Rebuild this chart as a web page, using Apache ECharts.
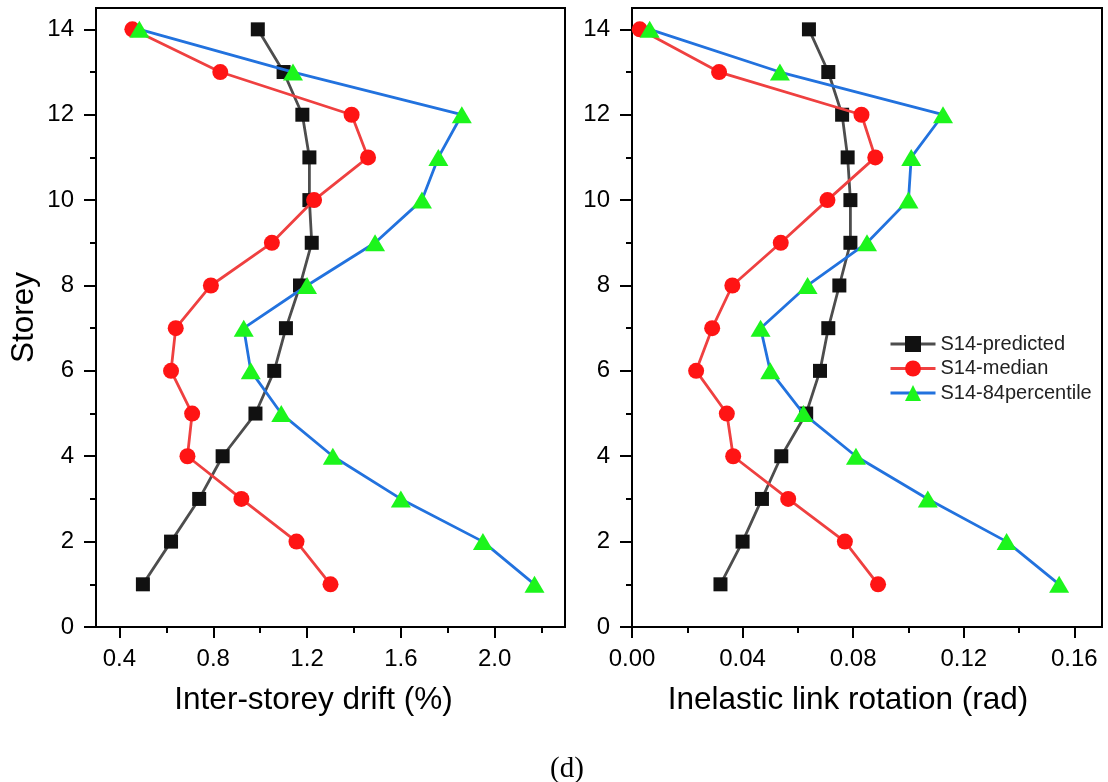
<!DOCTYPE html>
<html>
<head>
<meta charset="utf-8">
<script src="https://cdn.jsdelivr.net/npm/echarts@6/dist/echarts.min.js"></script>
<style>
  html, body { margin: 0; padding: 0; background: #fff; }
  #chart { width: 1108px; height: 782px; }
</style>
</head>
<body>
<div id="chart"></div>
<script>
// storey numbers, bottom to top
const storeys = [1, 2, 3, 4, 5, 6, 7, 8, 9, 10, 11, 12, 13, 14];

// inter-storey drift (%)
const driftPredicted = [0.50, 0.62, 0.74, 0.84, 0.98, 1.06, 1.11, 1.17, 1.22, 1.21, 1.21, 1.18, 1.10, 0.99];
const driftMedian = [1.30, 1.155, 0.92, 0.69, 0.71, 0.62, 0.64, 0.79, 1.05, 1.23, 1.46, 1.39, 0.83, 0.455];
const driftP84 = [2.17, 1.95, 1.60, 1.31, 1.09, 0.96, 0.93, 1.20, 1.49, 1.69, 1.76, 1.86, 1.14, 0.485];

// inelastic link rotation (rad)
const rotPredicted = [0.032, 0.040, 0.047, 0.054, 0.063, 0.068, 0.071, 0.075, 0.079, 0.079, 0.078, 0.076, 0.071, 0.064];
const rotMedian = [0.089, 0.077, 0.0565, 0.0366, 0.0343, 0.0232, 0.029, 0.0363, 0.0538, 0.0707, 0.088, 0.083, 0.0315, 0.0028];
const rotP84 = [0.1545, 0.1355, 0.107, 0.081, 0.062, 0.050, 0.0465, 0.0635, 0.085, 0.100, 0.101, 0.1125, 0.0535, 0.0064];

// ticks
const driftTicks = [0.4, 0.8, 1.2, 1.6, 2.0];
const driftMinor = [0.6, 1.0, 1.4, 1.8, 2.2];
const rotTicks = [0, 0.04, 0.08, 0.12, 0.16];
const rotMinor = [0.02, 0.06, 0.10, 0.14];
const storeyTicks = [0, 2, 4, 6, 8, 10, 12, 14];
const storeyMinor = [1, 3, 5, 7, 9, 11, 13];

const seriesNames = ['S14-predicted', 'S14-median', 'S14-84percentile'];

const chart = echarts.init(document.getElementById('chart'));

const font = 'Liberation Sans, Arial, sans-serif';
const black = '#000';

const pair = (xs) => xs.map((v, i) => [v, storeys[i]]);

const styles = [
  { symbol: 'rect', size: 14, marker: '#111111', line: '#4d4d4d' },
  { symbol: 'circle', size: 16, marker: '#ff1414', line: '#ef4040' },
  { symbol: 'triangle', size: [20, 17], marker: '#1cf51c', line: '#2272de' }
];

function mainX(gi, min, max, ticks, digits, name, pad) {
  return {
    gridIndex: gi, type: 'value', min: min, max: max,
    name: name, nameLocation: 'middle', nameGap: 57,
    nameTextStyle: { fontFamily: font, fontSize: 31.5, color: black, padding: [0, pad, 0, 0] },
    axisLine: { show: true, onZero: false, lineStyle: { color: black, width: 2 } },
    axisTick: { show: true, length: 11, customValues: ticks, lineStyle: { color: black, width: 2 } },
    axisLabel: {
      customValues: ticks, margin: 20, fontFamily: font, fontSize: 24, color: black,
      formatter: v => v.toFixed(digits)
    },
    splitLine: { show: false }
  };
}

function minorX(gi, min, max, ticks) {
  return {
    gridIndex: gi, type: 'value', min: min, max: max, position: 'bottom',
    axisLine: { show: false },
    axisTick: { show: true, length: 6, customValues: ticks, lineStyle: { color: black, width: 2 } },
    axisLabel: { show: false },
    splitLine: { show: false }
  };
}

function mainY(gi, withName) {
  return {
    gridIndex: gi, type: 'value', min: 0, max: 14.5,
    name: withName ? 'Storey' : '', nameLocation: 'middle', nameGap: 56,
    nameTextStyle: { fontFamily: font, fontSize: 31.5, color: black },
    axisLine: { show: true, onZero: false, lineStyle: { color: black, width: 2 } },
    axisTick: { show: true, length: 12, customValues: storeyTicks, lineStyle: { color: black, width: 2 } },
    axisLabel: { customValues: storeyTicks, margin: 22, fontFamily: font, fontSize: 24, color: black },
    splitLine: { show: false }
  };
}

function minorY(gi) {
  return {
    gridIndex: gi, type: 'value', min: 0, max: 14.5, position: 'left',
    axisLine: { show: false },
    axisTick: { show: true, length: 6, customValues: storeyMinor, lineStyle: { color: black, width: 2 } },
    axisLabel: { show: false },
    splitLine: { show: false }
  };
}

function makeSeries(gi, arrays) {
  return arrays.map((arr, k) => ({
    name: seriesNames[k],
    type: 'line',
    xAxisIndex: gi * 2,
    yAxisIndex: gi * 2,
    data: pair(arr),
    symbol: styles[k].symbol,
    symbolSize: styles[k].size,
    showAllSymbol: true,
    itemStyle: { color: styles[k].marker },
    lineStyle: { color: styles[k].line, width: 2.8 },
    z: 2 + k
  }));
}

const option = {
  animation: false,
  backgroundColor: '#fff',
  title: {
    text: '(d)', left: 562, top: 750, textAlign: 'center',
    textStyle: { fontFamily: 'Liberation Serif, Times New Roman, serif', fontSize: 29, fontWeight: 'normal', color: black }
  },
  grid: [
    { left: 96, top: 8, width: 469, height: 619, show: true, borderColor: black, borderWidth: 2 },
    { left: 632, top: 8, width: 470, height: 619, show: true, borderColor: black, borderWidth: 2 }
  ],
  legend: {
    left: 889, top: 334, orient: 'vertical', padding: 0,
    itemWidth: 45, itemHeight: 20, itemGap: 4.5,
    lineStyle: { width: 3 },
    textStyle: { fontFamily: font, fontSize: 20, color: '#222', lineHeight: 20 },
    data: seriesNames
  },
  xAxis: [
    mainX(0, 0.3, 2.3, driftTicks, 1, 'Inter-storey drift (%)', 34),
    minorX(0, 0.3, 2.3, driftMinor),
    mainX(1, 0, 0.17, rotTicks, 2, 'Inelastic link rotation (rad)', 38),
    minorX(1, 0, 0.17, rotMinor)
  ],
  yAxis: [
    mainY(0, true),
    minorY(0),
    mainY(1, false),
    minorY(1)
  ],
  series: [
    ...makeSeries(0, [driftPredicted, driftMedian, driftP84]),
    ...makeSeries(1, [rotPredicted, rotMedian, rotP84])
  ]
};

chart.setOption(option);
</script>
</body>
</html>
